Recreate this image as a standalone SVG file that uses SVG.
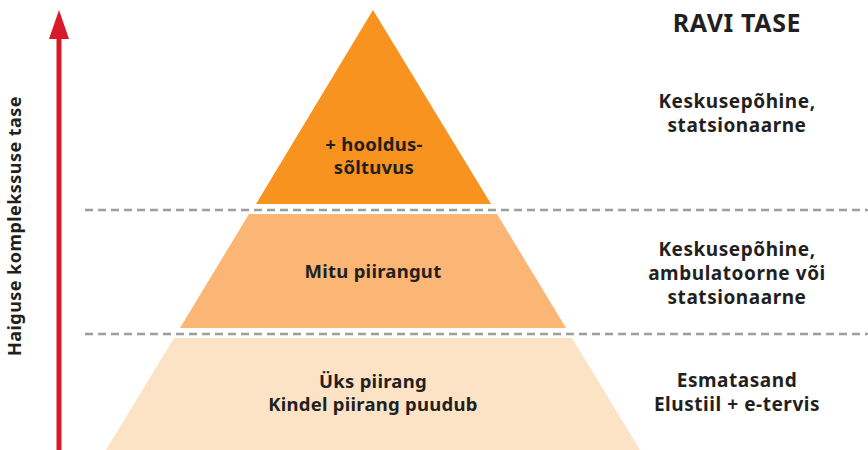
<svg xmlns="http://www.w3.org/2000/svg" width="868" height="450" viewBox="0 0 868 450">
<defs>
<style>
.t{font-family:"Noto Sans","Open Sans","Liberation Sans",sans-serif;font-weight:bold;font-size:18.5px;letter-spacing:0.25px;fill:#231f20;text-anchor:middle}
.r{font-size:19px;letter-spacing:0.55px}
.h{font-size:25px;letter-spacing:0.6px}
.v{font-size:18px;letter-spacing:0.45px}
.d{stroke:#9d9d9d;stroke-width:2.5;stroke-dasharray:8 5;fill:none}
</style>
</defs>
<rect width="868" height="450" fill="#fff"/>
<g id="level3">
<polygon points="373,10 491,204 256,204" fill="#f7931e"/>
<text class="t" x="374" y="151">+ hooldus-</text>
<text class="t" x="374" y="174">sõltuvus</text>
</g>
<g id="level2">
<polygon points="249,214 497,214 566,328 180,328" fill="#fbb574"/>
<text class="t" x="373" y="278">Mitu piirangut</text>
</g>
<g id="level1">
<polygon points="174,338 572,338 640,450 106,450" fill="#fde3c6"/>
<text class="t" x="373" y="388">Üks piirang</text>
<text class="t" x="373" y="411">Kindel piirang puudub</text>
</g>
<g id="connectors">
<line class="d" x1="85" y1="210" x2="868" y2="210"/>
<line class="d" x1="85" y1="334" x2="868" y2="334"/>
<line x1="59" y1="450" x2="59" y2="36" stroke="#d7192a" stroke-width="5"/>
<polygon points="59,10 69,39 49,39" fill="#d7192a"/>
</g>
<g id="axis-label">
<text class="t v" transform="translate(21,226) rotate(-90)">Haiguse komplekssuse tase</text>
</g>
<g id="ravi-tase">
<text class="t h" x="737" y="32">RAVI TASE</text>
<text class="t r" x="737" y="108">Keskusepõhine,</text>
<text class="t r" x="737" y="132">statsionaarne</text>
<text class="t r" x="737" y="256">Keskusepõhine,</text>
<text class="t r" x="737" y="280">ambulatoorne või</text>
<text class="t r" x="737" y="304">statsionaarne</text>
<text class="t r" x="737" y="387">Esmatasand</text>
<text class="t r" x="737" y="411">Elustiil + e-tervis</text>
</g>
</svg>
